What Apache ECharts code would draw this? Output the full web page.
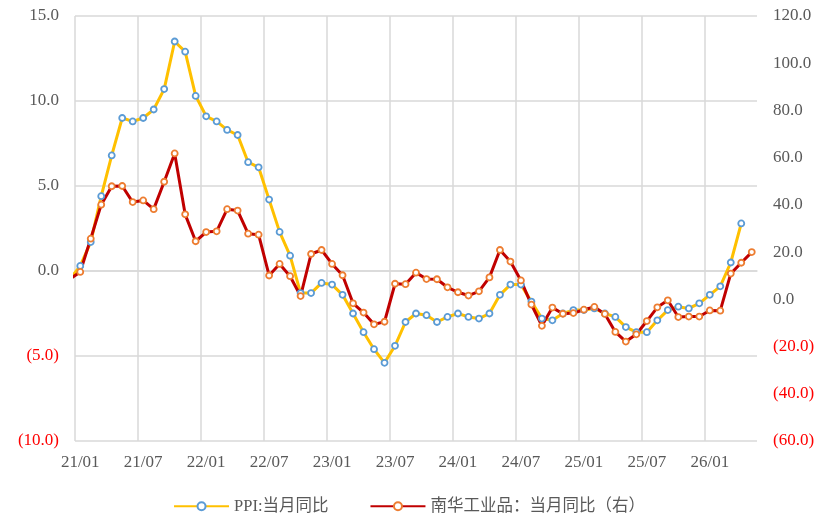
<!DOCTYPE html>
<html>
<head>
<meta charset="utf-8">
<script src="https://cdn.jsdelivr.net/npm/echarts@6/dist/echarts.min.js"></script>
<style>
html,body{margin:0;padding:0;background:#fff;}
#chart{width:818px;height:515px;}
</style>
</head>
<body>
<div id="chart"></div>
<script>
// Months (first entry 20/12 lies just left of the visible axis and is clipped)
const categories = [
  '20/12',
  '21/01','21/02','21/03','21/04','21/05','21/06','21/07','21/08','21/09','21/10','21/11','21/12',
  '22/01','22/02','22/03','22/04','22/05','22/06','22/07','22/08','22/09','22/10','22/11','22/12',
  '23/01','23/02','23/03','23/04','23/05','23/06','23/07','23/08','23/09','23/10','23/11','23/12',
  '24/01','24/02','24/03','24/04','24/05','24/06','24/07','24/08','24/09','24/10','24/11','24/12',
  '25/01','25/02','25/03','25/04','25/05','25/06','25/07','25/08','25/09','25/10','25/11','25/12',
  '26/01','26/02','26/03','26/04','26/05'
];

// PPI: 当月同比 (left axis, %)
const ppi = [
  -0.5,
  0.3, 1.7, 4.4, 6.8, 9.0, 8.8, 9.0, 9.5, 10.7, 13.5, 12.9, 10.3,
  9.1, 8.8, 8.3, 8.0, 6.4, 6.1, 4.2, 2.3, 0.9, -1.3, -1.3, -0.7,
  -0.8, -1.4, -2.5, -3.6, -4.6, -5.4, -4.4, -3.0, -2.5, -2.6, -3.0, -2.7,
  -2.5, -2.7, -2.8, -2.5, -1.4, -0.8, -0.8, -1.8, -2.8, -2.9, -2.5, -2.3,
  -2.3, -2.2, -2.5, -2.7, -3.3, -3.6, -3.6, -2.9, -2.3, -2.1, -2.2, -1.9,
  -1.4, -0.9, 0.5, 2.8, null
];

// 南华工业品: 当月同比 (right axis, %)
const nanhua = [
  8.6,
  11.6, 25.7, 40.1, 47.9, 48.0, 41.2, 41.9, 38.2, 49.8, 61.8, 36.0, 24.6,
  28.5, 28.8, 38.2, 37.6, 27.8, 27.4, 10.1, 15.0, 9.8, 1.4, 19.2, 20.9,
  15.0, 10.2, -1.7, -5.6, -10.6, -9.5, 6.6, 6.4, 11.3, 8.6, 8.5, 5.1,
  3.0, 1.6, 3.4, 9.3, 20.9, 16.0, 8.0, -2.2, -11.2, -3.5, -6.1, -5.8,
  -4.4, -3.2, -6.2, -13.8, -17.9, -14.8, -9.2, -3.4, -0.4, -7.5, -7.3, -7.3,
  -4.7, -4.8, 10.9, 15.5, 20.0
];

const leftTicks = { min: -10, max: 15, interval: 5 };
const rightTicks = { min: -60, max: 120, interval: 20 };
const seriesNames = ['PPI:当月同比', '南华工业品：当月同比（右）'];

const numFont = "'Liberation Serif', 'Times New Roman', serif";
const fmt = v => v < 0 ? '(' + Math.abs(v).toFixed(1) + ')' : v.toFixed(1);
const col = v => v < 0 ? '#FF0000' : '#595959';
const every6 = (i) => (i - 1) % 6 === 0;

const chart = echarts.init(document.getElementById('chart'), null, { renderer: 'canvas' });
chart.setOption({
  animation: false,
  backgroundColor: '#ffffff',
  grid: { left: 75, right: 61, top: 16, bottom: 74, containLabel: false },
  legend: {
    left: 'center',
    top: 493,
    itemWidth: 55,
    itemHeight: 10,
    itemGap: 41,
    textStyle: { fontFamily: "'Liberation Serif', 'Noto Sans CJK SC', serif", fontSize: 16.5, color: '#595959' },
    data: seriesNames
  },
  xAxis: {
    type: 'category',
    data: categories,
    min: 1,
    boundaryGap: true,
    axisLine: { show: true, lineStyle: { color: '#D9D9D9', width: 1.5 } },
    axisTick: { show: false },
    axisLabel: { interval: (i) => every6(i), margin: 13, fontFamily: numFont, fontSize: 17, color: '#595959' },
    splitLine: { show: true, showMaxLine: false, interval: (i) => every6(i), lineStyle: { color: '#D9D9D9', width: 1.5 } }
  },
  yAxis: [
    {
      type: 'value',
      position: 'left',
      min: leftTicks.min, max: leftTicks.max, interval: leftTicks.interval,
      axisLine: { show: false }, axisTick: { show: false },
      axisLabel: { formatter: fmt, color: col, margin: 16, fontFamily: numFont, fontSize: 17 },
      splitLine: { show: true, lineStyle: { color: '#D9D9D9', width: 1.5 } }
    },
    {
      type: 'value',
      position: 'right',
      min: rightTicks.min, max: rightTicks.max, interval: rightTicks.interval,
      axisLine: { show: false }, axisTick: { show: false },
      axisLabel: { formatter: fmt, color: col, margin: 16, fontFamily: numFont, fontSize: 17 },
      splitLine: { show: false }
    }
  ],
  series: [
    {
      name: seriesNames[0],
      type: 'line',
      yAxisIndex: 0,
      data: ppi,
      clip: true,
      symbol: 'circle',
      symbolSize: 6,
      showAllSymbol: true,
      color: '#FFC000',
      lineStyle: { color: '#FFC000', width: 3 },
      itemStyle: { color: '#ffffff', borderColor: '#5B9BD5', borderWidth: 1.8 }
    },
    {
      name: seriesNames[1],
      type: 'line',
      yAxisIndex: 1,
      data: nanhua,
      clip: true,
      symbol: 'circle',
      symbolSize: 6,
      showAllSymbol: true,
      color: '#C00000',
      lineStyle: { color: '#C00000', width: 3 },
      itemStyle: { color: '#ffffff', borderColor: '#ED7D31', borderWidth: 1.8 }
    }
  ]
});
</script>
</body>
</html>
